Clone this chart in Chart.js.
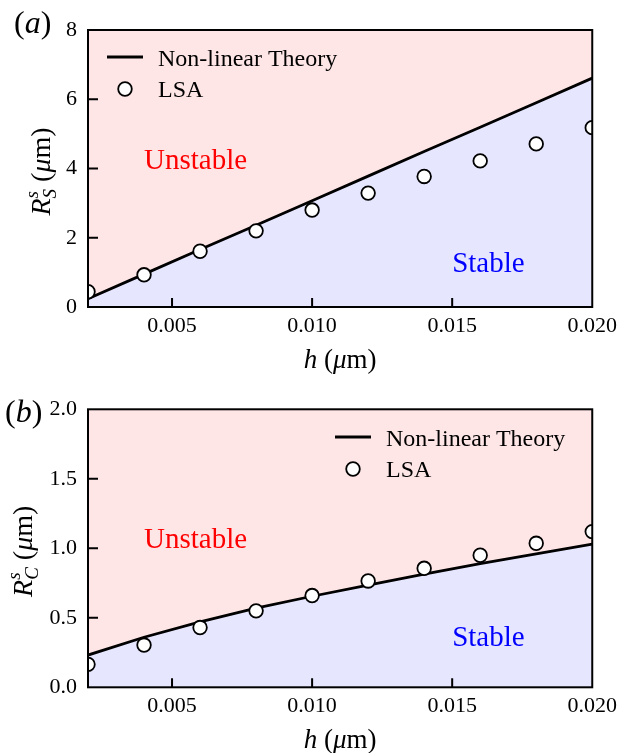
<!DOCTYPE html>
<html>
<head>
<meta charset="utf-8">
<script src="https://cdn.jsdelivr.net/npm/chart.js@4.4.0/dist/chart.umd.min.js"></script>
<style>
  body { margin: 0; background: #fff; }
  canvas { display: block; }
</style>
</head>
<body>
<canvas id="chartA" width="623" height="376"></canvas>
<canvas id="chartB" width="623" height="377"></canvas>
<script>
// values
const h_values = [0.002, 0.004, 0.006, 0.008, 0.010, 0.012, 0.014, 0.016, 0.018, 0.020];
const theory_S = [0.24, 0.95, 1.66, 2.36, 3.07, 3.78, 4.49, 5.19, 5.90, 6.61];
const lsa_S    = [0.44, 0.93, 1.61, 2.20, 2.80, 3.29, 3.77, 4.22, 4.71, 5.18];
const theory_C = [0.232, 0.36, 0.47, 0.57, 0.655, 0.735, 0.815, 0.89, 0.96, 1.03];
const lsa_C    = [0.165, 0.304, 0.43, 0.55, 0.66, 0.765, 0.856, 0.95, 1.036, 1.12];
const x_ticks = [0.005, 0.010, 0.015, 0.020];
const legend_labels = ['Non-linear Theory', 'LSA'];

const SERIF = '"Liberation Serif", "Times New Roman", serif';
const PINK = 'rgb(255,230,230)';
const BLUE = 'rgb(230,230,255)';

function font(size, italic) {
    return (italic ? 'italic ' : '') + size + 'px ' + SERIF;
}

// draw a list of [text, italic, size, dy, noAdvance] pieces starting at x
function drawRuns(ctx, runs, x, y) {
    runs.forEach(r => {
        ctx.font = font(r[2], r[1]);
        ctx.fillText(r[0], x, y + (r[3] || 0));
        if (!r[4]) x += ctx.measureText(r[0]).width;
    });
}
function runsWidth(ctx, runs) {
    let w = 0;
    runs.forEach(r => {
        ctx.font = font(r[2], r[1]);
        if (!r[4]) w += ctx.measureText(r[0]).width;
    });
    return w;
}

const decor = {
    id: 'decor',
    beforeDatasetsDraw(chart) {
        const {ctx, chartArea: a} = chart;
        ctx.save();
        ctx.fillStyle = PINK;
        ctx.fillRect(a.left, a.top, a.right - a.left, a.bottom - a.top);
        ctx.restore();
    },
    afterDraw(chart, args, o) {
        const {ctx, chartArea: a, scales} = chart;
        const xs = scales.x, ys = scales.y;
        ctx.save();
        ctx.strokeStyle = '#000';
        ctx.lineWidth = 2;
        // inward ticks
        ctx.beginPath();
        xs.ticks.forEach(t => {
            if (t.value <= xs.min || t.value >= xs.max) return;
            const px = xs.getPixelForValue(t.value);
            ctx.moveTo(px, a.bottom); ctx.lineTo(px, a.bottom - 9);
        });
        ys.ticks.forEach(t => {
            if (t.value <= ys.min || t.value >= ys.max) return;
            const py = ys.getPixelForValue(t.value);
            ctx.moveTo(a.left, py); ctx.lineTo(a.left + 10, py);
        });
        ctx.stroke();
        ctx.strokeRect(a.left, a.top, a.right - a.left, a.bottom - a.top);

        ctx.fillStyle = '#000';
        ctx.textBaseline = 'alphabetic';
        ctx.textAlign = 'left';

        // x title
        const xr = [['h', true, 27], [' (', false, 27], ['\u03bc', true, 27], ['m)', false, 27]];
        drawRuns(ctx, xr, (a.left + a.right) / 2 - runsWidth(ctx, xr) / 2, o.xTitleY);

        // y title, rotated
        const yr = [['R', true, 28], ['s', true, 19, -12, true], [o.sub, true, 19, 6],
                    [' (', false, 28], ['\u03bc', true, 28], ['m)', false, 28]];
        ctx.save();
        ctx.translate(o.yTitleX, (a.top + a.bottom) / 2 + 3);
        ctx.rotate(-Math.PI / 2);
        drawRuns(ctx, yr, -runsWidth(ctx, yr) / 2, 0);
        ctx.restore();

        // panel label
        drawRuns(ctx, [['(', false, 32], [o.panel, true, 32], [')', false, 32]], o.panelX, o.panelY);

        // region labels
        ctx.font = font(29, false);
        ctx.fillStyle = '#ff0000';
        ctx.fillText('Unstable', xs.getPixelForValue(0.004), ys.getPixelForValue(o.unstableY));
        ctx.fillStyle = '#0000ff';
        ctx.fillText('Stable', xs.getPixelForValue(0.015), ys.getPixelForValue(o.stableY));

        // legend
        const [lx, ly] = o.legend;
        const lsa = chart.data.datasets[0], th = chart.data.datasets[1];
        ctx.strokeStyle = th.borderColor;
        ctx.lineWidth = th.borderWidth;
        ctx.beginPath(); ctx.moveTo(lx, ly); ctx.lineTo(lx + 36, ly); ctx.stroke();
        ctx.beginPath();
        ctx.arc(lx + 18, ly + 32, lsa.pointRadius, 0, Math.PI * 2);
        ctx.fillStyle = lsa.pointBackgroundColor; ctx.fill();
        ctx.lineWidth = lsa.pointBorderWidth; ctx.strokeStyle = lsa.pointBorderColor; ctx.stroke();
        ctx.fillStyle = '#000';
        ctx.font = font(24, false);
        ctx.fillText(legend_labels[0], lx + 51, ly + 8.5);
        ctx.fillText(legend_labels[1], lx + 51, ly + 40);
        ctx.restore();
    }
};

function makePanel(id, o) {
    const H = document.getElementById(id).height;
    return new Chart(document.getElementById(id), {
        type: 'line',
        data: {
            datasets: [
                {
                    label: legend_labels[1],
                    data: h_values.map((h, i) => ({x: h, y: o.lsa[i]})),
                    showLine: false,
                    pointRadius: 6.8,
                    pointBorderWidth: 1.8,
                    pointBackgroundColor: '#fff',
                    pointBorderColor: '#000',
                    clip: 0
                },
                {
                    label: legend_labels[0],
                    data: h_values.map((h, i) => ({x: h, y: o.theory[i]})),
                    borderColor: '#000',
                    borderWidth: 2.8,
                    pointRadius: 0,
                    fill: 'start',
                    backgroundColor: BLUE,
                    tension: 0,
                    clip: 0
                }
            ]
        },
        options: {
            responsive: false,
            animation: false,
            events: [],
            layout: {padding: {top: o.top, right: 28, left: 0, bottom: 0}},
            scales: {
                x: {
                    type: 'linear',
                    min: 0.002, max: 0.020,
                    afterBuildTicks: s => { s.ticks = x_ticks.map(v => ({value: v})); },
                    afterFit: s => { s.height = H - o.bottom; },
                    grid: {display: false, drawTicks: false},
                    border: {display: false},
                    ticks: {
                        callback: v => v.toFixed(3),
                        font: {family: SERIF, size: 22},
                        color: '#000',
                        padding: 6,
                        maxRotation: 0,
                        autoSkip: false
                    }
                },
                y: {
                    min: 0, max: o.ymax,
                    afterFit: s => { s.width = 88; },
                    grid: {display: false, drawTicks: false},
                    border: {display: false},
                    ticks: {
                        stepSize: o.ystep,
                        callback: v => v.toFixed(o.ydec),
                        font: {family: SERIF, size: 22},
                        color: '#000',
                        padding: 11
                    }
                }
            },
            plugins: {
                legend: {display: false},
                tooltip: {enabled: false},
                decor: o.decor
            }
        },
        plugins: [decor]
    });
}

makePanel('chartA', {
    lsa: lsa_S, theory: theory_S, ymax: 8, ystep: 2, ydec: 0, top: 30, bottom: 307,
    decor: {sub: 'S', panel: 'a', panelX: 14, panelY: 33, xTitleY: 368, yTitleX: 50,
            unstableY: 4, stableY: 1, legend: [107, 57]}
});
makePanel('chartB', {
    lsa: lsa_C, theory: theory_C, ymax: 2, ystep: 0.5, ydec: 1, top: 33.3, bottom: 311.3,
    decor: {sub: 'C', panel: 'b', panelX: 5, panelY: 46, xTitleY: 372, yTitleX: 32,
            unstableY: 1.0, stableY: 0.3, legend: [335, 61]}
});
</script>
</body>
</html>
